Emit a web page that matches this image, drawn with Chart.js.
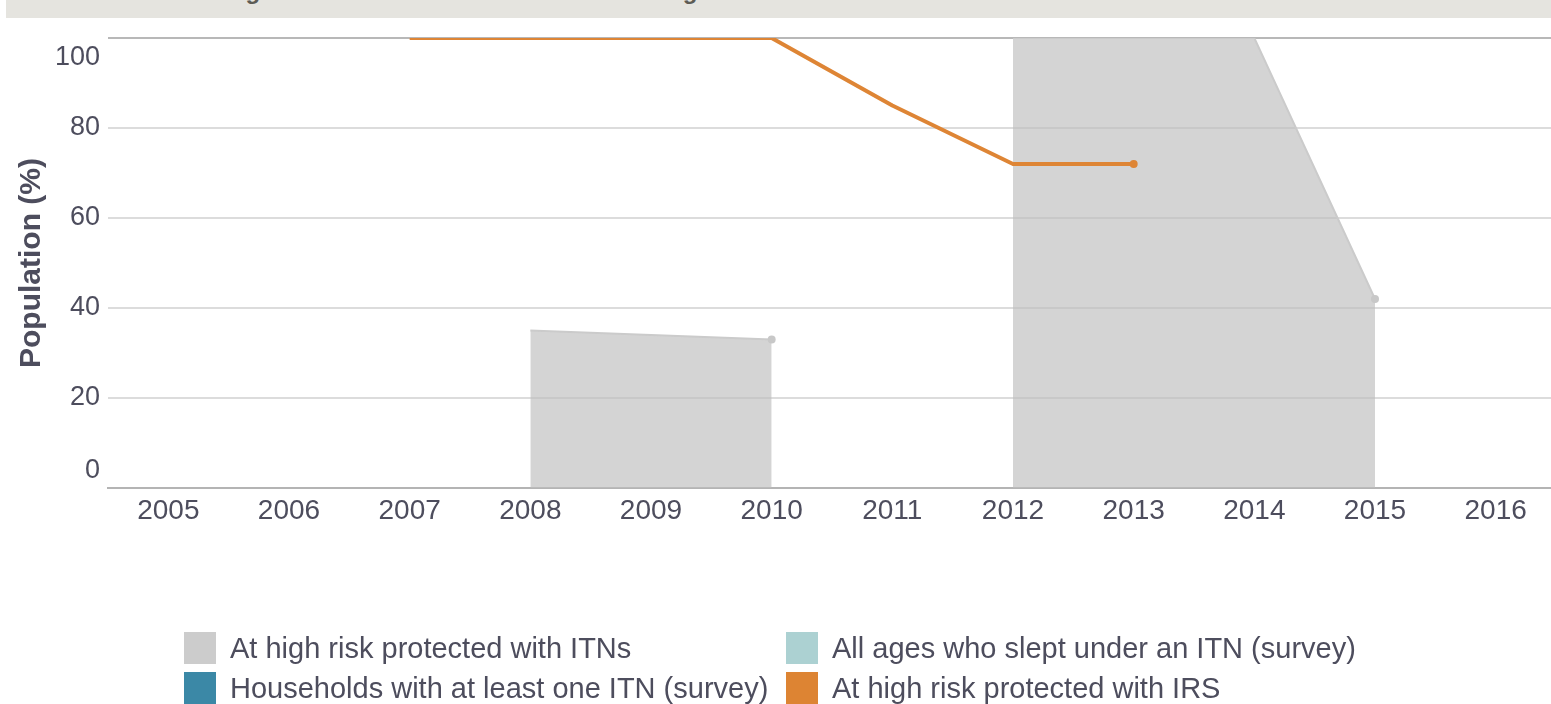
<!DOCTYPE html>
<html>
<head>
<meta charset="utf-8">
<script src="https://cdn.jsdelivr.net/npm/chart.js@4.4.1/dist/chart.umd.min.js"></script>
<style>
  html, body { margin: 0; padding: 0; width: 1551px; height: 704px; overflow: hidden; background: #ffffff; }
  #header { position: absolute; left: 6px; top: 0; width: 1545px; height: 18px; background: #e5e4df; overflow: hidden; }
  #header span { position: absolute; left: 158px; top: -21px; font: bold 24px "Liberation Sans", Arial, sans-serif; line-height: 24px; color: #5d5c55; white-space: nowrap; }
  #wrap { position: absolute; left: 0; top: 0; width: 1556px; height: 530px; }
  #legend { position: absolute; left: 0; top: 0; width: 1551px; height: 704px; pointer-events: none; }
  .item { position: absolute; height: 32px; display: flex; align-items: center; font: 29px "Liberation Sans", Arial, sans-serif; color: #4d4d5d; white-space: nowrap; }
  .item i { display: inline-block; width: 32px; height: 32px; margin-right: 14px; }
</style>
</head>
<body>
<div id="wrap"><canvas id="c" width="1556" height="530"></canvas></div>
<div id="header"><span>Coverage of vector control interventions in high-risk areas</span></div>
<div id="legend"></div>
<script>
// ---- data ----
const years = ['2005','2006','2007','2008','2009','2010','2011','2012','2013','2014','2015','2016'];
const itnHighRisk = [null, null, null, 35, 34, 33, null, 100, 100, 100, 42, null];
const itnSleptSurvey = [null, null, null, null, null, null, null, null, null, null, null, null];
const itnHouseholdSurvey = [null, null, null, null, null, null, null, null, null, null, null, null];
const irsHighRisk = [null, null, 100, 100, 100, 100, 85, 72, 72, null, null, null];
const yTicks = [0, 20, 40, 60, 80, 100];
const seriesNames = ['At high risk protected with ITNs', 'All ages who slept under an ITN (survey)', 'Households with at least one ITN (survey)', 'At high risk protected with IRS'];

const textColor = '#4d4d5d';
const font = '"Liberation Sans", Arial, sans-serif';

function endMarkers(arr, r) {
  return arr.map((v, i) => (v !== null && (i === arr.length - 1 || arr[i + 1] === null)) ? r : 0);
}

const yLabelsPlugin = {
  id: 'yLabels',
  afterDraw(chart) {
    const ctx = chart.ctx, y = chart.scales.y, a = chart.chartArea;
    ctx.save();
    ctx.fillStyle = textColor;
    ctx.font = '27px ' + font;
    ctx.textAlign = 'right';
    ctx.textBaseline = 'middle';
    yTicks.forEach(v => {
      let py = y.getPixelForValue(v);
      py = Math.min(Math.max(py, a.top + 20), a.bottom - 17);
      ctx.fillText(String(v), 100, py);
    });
    ctx.translate(32, (a.top + a.bottom) / 2);
    ctx.rotate(-Math.PI / 2);
    ctx.textAlign = 'center';
    ctx.font = 'bold 30px ' + font;
    ctx.fillText('Population (%)', 0, 0);
    ctx.restore();
  }
};

const chart = new Chart(document.getElementById('c'), {
  type: 'line',
  data: {
    labels: years,
    datasets: [
      {
        label: seriesNames[0], data: itnHighRisk, legendColor: '#cccccc', order: 3,
        borderColor: '#cbcbcb', borderWidth: 2, backgroundColor: 'rgba(190,190,190,0.66)',
        fill: 'origin', tension: 0, spanGaps: false,
        pointRadius: endMarkers(itnHighRisk, 4), pointBackgroundColor: '#c8c8c8', pointBorderWidth: 0
      },
      {
        label: seriesNames[1], data: itnSleptSurvey, legendColor: '#acd1d2', order: 2,
        borderColor: '#acd1d2', backgroundColor: '#acd1d2', pointRadius: 0
      },
      {
        label: seriesNames[2], data: itnHouseholdSurvey, legendColor: '#3b88a6', order: 1,
        borderColor: '#3b88a6', backgroundColor: '#3b88a6', pointRadius: 0
      },
      {
        label: seriesNames[3], data: irsHighRisk, legendColor: '#dd8433', order: 0,
        borderColor: '#de8535', borderWidth: 4, fill: false, tension: 0, spanGaps: false,
        borderJoinStyle: 'round',
        pointRadius: endMarkers(irsHighRisk, 4), pointBackgroundColor: '#de8535', pointBorderWidth: 0
      }
    ]
  },
  options: {
    responsive: false,
    animation: false,
    layout: { padding: { left: 108, right: 0, top: 38, bottom: 0 } },
    plugins: { legend: { display: false }, tooltip: { enabled: false }, title: { display: false } },
    scales: {
      x: {
        type: 'category', offset: true,
        grid: { display: false, drawTicks: false },
        border: { display: true, color: '#b4b4b4', width: 2 },
        ticks: { color: textColor, font: { family: font, size: 28 }, padding: 6, maxRotation: 0, autoSkip: false },
        afterFit(s) { s.height = 42; }
      },
      y: {
        min: 0, max: 100,
        ticks: { display: false, stepSize: 20 },
        grid: {
          drawTicks: false, lineWidth: 2,
          color: c => c.tick && c.tick.value === 100 ? '#b8b8b8' : (c.tick && c.tick.value === 0 ? 'rgba(0,0,0,0)' : '#dcdcdc')
        },
        border: { display: false },
        afterFit(s) { s.width = 0; }
      }
    }
  },
  plugins: [yLabelsPlugin]
});

// HTML legend built from the datasets (2 columns)
const legend = document.getElementById('legend');
const cols = [184, 786];
const rows = [632, 672];
chart.data.datasets.forEach((ds, i) => {
  const d = document.createElement('div');
  d.className = 'item';
  d.style.left = cols[i % 2] + 'px';
  d.style.top = rows[Math.floor(i / 2)] + 'px';
  const sw = document.createElement('i');
  sw.style.background = ds.legendColor;
  d.appendChild(sw);
  d.appendChild(document.createTextNode(ds.label));
  legend.appendChild(d);
});
</script>
</body>
</html>
